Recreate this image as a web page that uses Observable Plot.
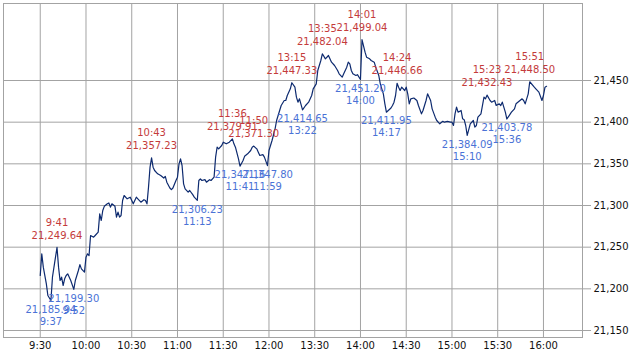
<!DOCTYPE html>
<html>
<head>
<meta charset="utf-8">
<script src="https://cdn.jsdelivr.net/npm/d3@7"></script>
<script src="https://cdn.jsdelivr.net/npm/@observablehq/plot@0.6"></script>
<style>
  html, body { margin: 0; padding: 0; background: #fff; }
  #chart { width: 633px; height: 351px; }
</style>
</head>
<body>
<div id="chart"></div>
<script>
// ---- Data ----
const seriesTimes = ["9:30","9:31","9:32","9:34","9:35","9:37","9:38","9:40","9:41","9:42","9:43","9:44","9:45","9:46","9:47","9:48","9:50","9:52","9:53","9:55","9:56","9:57","9:59",
"10:00","10:01","10:02","10:03","10:05","10:06","10:08","10:09","10:10","10:11","10:12","10:14","10:15","10:16","10:17","10:19","10:20","10:21","10:22","10:23","10:24","10:25","10:27","10:29","10:31","10:33","10:34","10:36","10:38","10:39","10:40","10:41","10:42","10:43","10:44","10:45","10:47","10:49","10:51","10:52","10:53","10:55","10:56","10:57","10:59",
"11:00","11:01","11:02","11:03","11:04","11:05","11:07","11:08","11:10","11:11","11:13","11:14","11:15","11:16","11:18","11:19","11:21","11:22","11:24","11:25","11:26","11:27","11:29","11:30","11:32","11:34","11:36","11:37","11:38","11:40","11:41","11:43","11:44","11:46","11:48","11:49","11:50","11:52","11:53","11:54","11:56","11:57","11:59","12:00",
"13:02","13:04","13:05","13:07","13:08","13:10","13:11","13:12","13:14","13:15","13:17","13:18","13:19","13:20","13:22","13:24","13:26","13:28","13:29","13:31","13:32","13:34","13:35","13:37","13:39","13:41","13:43","13:45","13:46","13:48","13:49","13:51","13:52","13:53","13:54","13:55","13:57","13:58",
"14:00","14:01","14:03","14:04","14:06","14:07","14:09","14:10","14:12","14:13","14:15","14:16","14:17","14:20","14:21","14:22","14:23","14:24","14:25","14:26","14:27","14:29","14:30","14:31","14:32","14:33","14:35","14:37","14:38","14:40","14:41","14:43","14:44","14:46","14:47","14:49","14:50","14:52","14:54","14:55","14:57","14:59",
"15:00","15:01","15:02","15:03","15:04","15:06","15:07","15:08","15:09","15:10","15:12","15:14","15:15","15:16","15:17","15:19","15:21","15:22","15:23","15:25","15:26","15:28","15:29","15:31","15:32","15:33","15:34","15:35","15:36","15:39","15:41","15:42","15:44","15:46","15:47","15:48","15:50","15:51","15:54","15:55","15:57","15:59",
"16:00","16:01","16:02"];
const seriesValues = [21216,21242,21226,21206,21192,21185.94,21214,21238,21249.64,21226,21210,21214,21204,21212,21216,21218,21210,21199.30,21210,21222,21229,21224,21220,
21238,21242,21240,21264,21262,21264,21268,21290,21282,21294,21299,21302,21303,21298,21302,21299,21286,21292,21286,21288,21306,21312,21308,21310,21302,21310,21308,21304,21307,21306,21302,21322,21346,21357.23,21346,21342,21338,21336,21333,21335,21328,21321,21319,21321,21330,
21334,21350,21356,21348,21326,21320,21316,21318,21313,21310,21306.23,21330,21332,21330,21331,21328,21331,21330,21334,21358,21370,21368,21372,21376,21374,21376,21379.91,21374,21370,21356,21347.16,21354,21359,21362,21366,21370,21371.30,21368,21364,21360,21361,21358,21347.80,21366,
21378,21392,21402,21414,21420,21426,21426,21432,21440,21447.33,21442,21430,21424,21428,21414.65,21420,21424,21432,21440,21446,21462,21474,21482.04,21476,21480,21472,21468,21462,21458,21454,21458,21466,21472,21470,21462,21458,21456,21457,
21451.20,21499.04,21484,21478,21476,21474,21472,21466,21456,21446,21434,21422,21411.95,21417,21420,21424,21432,21446.66,21442,21438,21442,21438,21442,21434,21422,21428,21429,21426,21420,21410,21414,21426,21434,21426,21416,21406,21402,21398,21401,21400,21401,21400,
21400,21396,21410,21418,21412,21414,21404,21403,21396,21384.09,21398,21402,21394,21396,21406,21410,21430,21428,21432.43,21426,21424,21426,21420,21422,21420,21424,21418,21412,21403.78,21412,21416,21422,21425,21428,21426,21422,21434,21448.50,21442,21440,21436,21426,
21432,21442,21443];

const highTimes  = ["9:41","10:43","11:36","11:50","13:15","13:35","14:01","14:24","15:23","15:51"];
const highValues = [21249.64,21357.23,21379.91,21371.30,21447.33,21482.04,21499.04,21446.66,21432.43,21448.50];
const lowTimes   = ["9:37","9:52","11:13","11:41","11:59","13:22","14:00","14:17","15:10","15:36"];
const lowValues  = [21185.94,21199.30,21306.23,21347.16,21347.80,21414.65,21451.20,21411.95,21384.09,21403.78];

const xTickLabels = ["9:30","10:00","10:30","11:00","11:30","12:00","13:30","14:00","14:30","15:00","15:30","16:00"];
const yTicks = [21150,21200,21250,21300,21350,21400,21450];

// ---- Trading-minute index (lunch break removed) ----
function toIdx(t) {
  const [h, m] = t.split(":").map(Number);
  let mins = h * 60 + m - 570;
  if (h >= 13) mins -= 60;
  return mins;
}

const series = seriesTimes.map((t, i) => ({x: toIdx(t), y: seriesValues[i]}));
const highs = highTimes.map((t, i) => ({x: toIdx(t), y: highValues[i], t}));
const lows = lowTimes.map((t, i) => ({x: toIdx(t), y: lowValues[i], t}));
const xTicks = xTickLabels.map(toIdx);
const tickLabelMap = new Map(xTicks.map((v, i) => [v, xTickLabels[i]]));
const fmt = d3.format(",.2f");

const gridColor = "#a3a3a3";
const red = "#c43b3b";
const blue = "#4a72d6";

const chart = Plot.plot({
  width: 633,
  height: 351,
  marginLeft: 3,
  marginRight: 51,
  marginTop: 3,
  marginBottom: 14,
  style: {fontFamily: "DejaVu Sans", fontSize: "10px", color: "#111", background: "#fff"},
  x: {domain: [-24.1, 355.6], axis: null},
  y: {domain: [21141.6, 21542.4], axis: null},
  marks: [
    Plot.gridX(xTicks, {stroke: gridColor, strokeOpacity: 1}),
    Plot.gridY(yTicks, {stroke: gridColor, strokeOpacity: 1}),
    Plot.frame({stroke: gridColor}),
    Plot.axisX(xTicks, {anchor: "bottom", label: null, tickSize: 0, tickPadding: 4, tickFormat: d => tickLabelMap.get(d), fontSize: 10}),
    Plot.axisY(yTicks, {anchor: "right", label: null, tickSize: 8, tickPadding: 3, stroke: gridColor, tickFormat: d3.format(","), fontSize: 10}),
    Plot.line(series, {x: "x", y: "y", stroke: "#0d2a6f", strokeWidth: 1.2}),
    Plot.text(highs, {x: "x", y: "y", text: d => d.t, dy: -25, fill: red, fontSize: 10}),
    Plot.text(highs, {x: "x", y: "y", text: d => fmt(d.y), dy: -12, fill: red, fontSize: 10}),
    Plot.text(lows, {x: "x", y: "y", text: d => fmt(d.y), dy: 9, fill: blue, fontSize: 10}),
    Plot.text(lows, {x: "x", y: "y", text: d => d.t, dy: 21, fill: blue, fontSize: 10})
  ]
});
document.getElementById("chart").appendChild(chart);
</script>
</body>
</html>
